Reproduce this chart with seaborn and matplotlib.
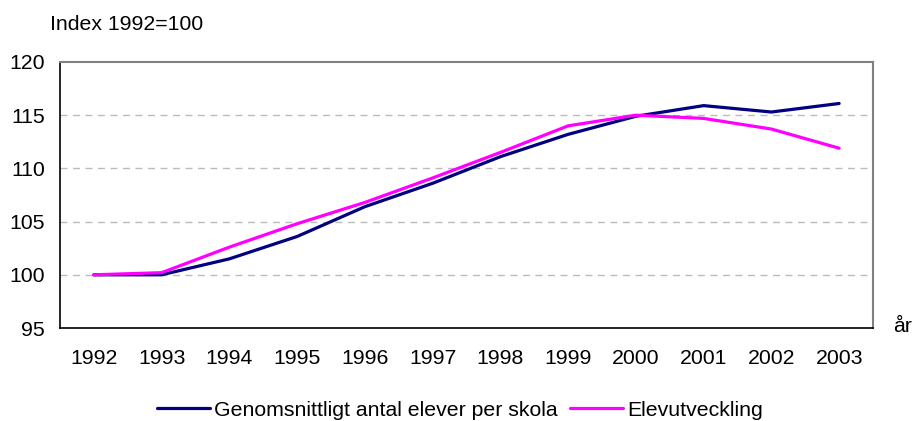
import matplotlib
matplotlib.use("Agg")
import matplotlib.pyplot as plt
import seaborn as sns
import pandas as pd
import numpy as np

years = [1992, 1993, 1994, 1995, 1996, 1997, 1998, 1999, 2000, 2001, 2002, 2003]
genomsnitt = [100.0, 100.0, 101.5, 103.6, 106.4, 108.6, 111.1, 113.2, 114.9, 115.9, 115.3, 116.1]
elevutv = [100.0, 100.2, 102.6, 104.8, 106.8, 109.1, 111.5, 114.0, 115.0, 114.7, 113.7, 111.9]
series_names = ["Genomsnittligt antal elever per skola", "Elevutveckling"]
colors = ["#000080", "#FF00FF"]

df = pd.DataFrame({
    "year": years * 2,
    "value": genomsnitt + elevutv,
    "serie": [series_names[0]] * len(years) + [series_names[1]] * len(years),
})

sns.set_style("white")
plt.rcParams["font.family"] = ["Liberation Sans", "DejaVu Sans"]
plt.rcParams["text.color"] = "black"
plt.rcParams["xtick.labelcolor"] = "black"
plt.rcParams["ytick.labelcolor"] = "black"
FS = 15.3

fig = plt.figure(figsize=(9.15, 4.21), dpi=100)
ax = fig.add_axes([60 / 915, 1 - 328 / 421, 813 / 915, 266 / 421])

sns.lineplot(data=df, x="year", y="value", hue="serie", palette=colors,
             hue_order=series_names, linewidth=2.3, ax=ax, legend=True)

ax.set_xlim(1991.5, 2003.5)
ax.set_ylim(95, 120)
ax.set_yticks([95, 100, 105, 110, 115, 120])
ax.set_xticks(years)
ax.set_xticks(np.arange(1991.5, 2004, 1.0), minor=True)
ax.tick_params(axis="x", which="major", length=0, pad=15, labelsize=FS, labelcolor="black")
ax.tick_params(axis="x", which="minor", length=5, width=1, color="black", direction="out")
ax.tick_params(axis="y", length=5, width=1, color="black", direction="out", labelsize=FS, pad=6,
               labelcolor="black")
ax.set_xlabel("")
ax.set_ylabel("")

for y in [100, 105, 110, 115]:
    ax.axhline(y, color="#BBBBBB", linestyle=(0, (5, 4)), linewidth=1, zorder=0)

for s in ["top", "right"]:
    ax.spines[s].set_visible(True)
    ax.spines[s].set_color("#808080")
    ax.spines[s].set_linewidth(1.5)
for s in ["left", "bottom"]:
    ax.spines[s].set_visible(True)
    ax.spines[s].set_color("black")
    ax.spines[s].set_linewidth(1.2)

fig.text(50 / 915, 1 - 24 / 421, "Index 1992=100", fontsize=FS, va="center", ha="left", color="black")
fig.text(893 / 915, 1 - 327 / 421, "år", fontsize=FS, va="center", ha="left", color="black")

leg = ax.legend(loc="center", bbox_to_anchor=((460 - 60) / 813, -(410 - 328) / 266), ncol=2, frameon=False,
                fontsize=FS, handlelength=2.5, handletextpad=0.2, columnspacing=0.6,
                borderaxespad=0, borderpad=0, labelcolor="black")
for line in leg.get_lines():
    line.set_linewidth(2.3)

fig.savefig("out.png", dpi=100)
